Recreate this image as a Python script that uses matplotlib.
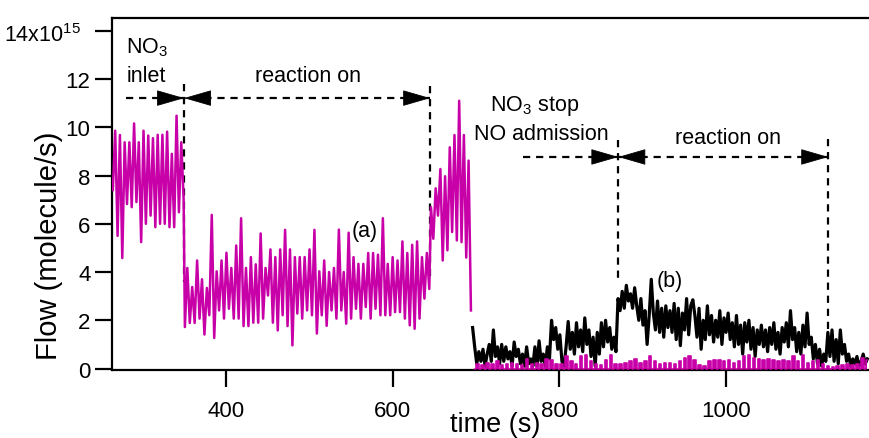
import numpy as np
import matplotlib
matplotlib.use("Agg")
import matplotlib.pyplot as plt
from matplotlib.transforms import ScaledTranslation

plt.rcParams['font.family'] = ['Liberation Sans', 'DejaVu Sans']
plt.rcParams['mathtext.fontset'] = 'custom'
plt.rcParams['mathtext.rm'] = 'Liberation Sans'
plt.rcParams['mathtext.it'] = 'Liberation Sans:italic'
plt.rcParams['lines.scale_dashes'] = False

# ---- NO3 flow signal (units of 1e15 molecule/s), alternating high/low samples ----
# before reaction (NO3 inlet only)
no3_inlet = [7.4, 9.86, 5.5, 9.68, 4.58, 9.38, 6.82, 9.38, 6.69, 10.16, 6.9, 9.38, 5.24,
             9.86, 6.0, 9.66, 6.34, 9.55, 5.86, 9.69, 6.0, 9.69, 6.0, 9.82, 5.86, 8.9,
             5.86, 10.48, 6.48, 9.38, 7.02]
# reaction on (a)
no3_reaction = [1.72, 4.17, 1.89, 3.38, 1.89, 4.48, 2.07, 3.70, 1.41, 3.34, 2.21, 6.37,
                1.27, 4.03, 2.41, 4.48, 2.07, 4.80, 2.48, 4.17, 2.07, 5.10, 2.07, 6.23,
                1.76, 4.17, 1.76, 4.62, 1.90, 4.32, 1.90, 5.60, 2.07, 4.17, 3.03, 4.94,
                1.90, 4.62, 1.58, 4.94, 2.21, 5.75, 1.76, 4.94, 0.96, 4.62, 2.28, 4.62,
                2.07, 4.62, 2.41, 4.94, 2.21, 5.75, 1.45, 4.03, 2.21, 4.48, 1.77, 4.0,
                2.41, 4.17, 2.07, 5.76, 2.41, 4.0, 1.86, 5.63, 2.07, 4.62, 2.48, 4.34,
                2.07, 4.34, 2.55, 4.79, 2.07, 4.79, 2.48, 4.72, 2.21, 6.23, 2.21, 4.34,
                2.21, 4.62, 2.34, 4.48, 2.34, 5.27, 2.07, 4.79, 1.79, 5.13, 1.65, 5.27,
                2.07, 4.62, 2.9, 4.79, 3.3]
# reaction off again
no3_recovery = [6.69, 5.38, 7.47, 6.34, 8.27, 4.48, 7.97, 4.9, 9.17, 5.66, 9.68, 5.31,
                11.1, 5.24, 9.68, 4.6, 8.62, 2.41]
# NO3 stopped: residual spikes
no3_residual = [0.2, 0.15, 0.25, 0.2, 0.3, 0.15, 0.2, 0.25, 0.2, 0.15,
                0.4, 0.2, 0.25, 0.2, 0.4, 0.35, 0.2,
                0.2, 0.5, 0.3, 0.2, 0.5, 0.55, 0.3, 0.2, 0.15, 0.35, 0.55, 0.2,
                0.2, 0.25, 0.3, 0.4, 0.25, 0.3, 0.5, 0.3, 0.2, 0.25,
                0.25, 0.2, 0.3, 0.45, 0.5, 0.35, 0.15, 0.1, 0.3, 0.35, 0.35, 0.3,
                0.35, 0.25, 0.3, 0.5, 0.55, 0.45, 0.4, 0.35, 0.4, 0.35,
                0.3, 0.35, 0.3, 0.5, 0.3, 0.55, 0.25, 0.3, 0.35, 0.2,
                0.1, 0.05, 0.1, 0.15, 0.2, 0.15, 0.2, 0.45, 0.35]

# ---- NO flow signal (b) ----
no_flow = [1.7, 0.9, 0.2, 0.7, 0.3, 0.8, 0.1, 0.6, 1.0, 0.3, 1.6, 0.5, 0.9, 0.2,
           1.0, 0.3, 0.9, 0.4, 0.7, 0.1, 1.1, 0.5, 0.8, 0.2, 0.6, 0.1, 0.9, 0.2, 0.4, 0.1,
           0.9, 0.1, 1.15, 0.3, 0.6, 0.1, 0.9, 0.4,
           2.0, 1.2, 1.7, 0.8, 1.4, 0.3, 0.1, 0.9,
           1.95, 0.8, 1.5, 0.6, 1.9, 0.9, 1.6, 0.7,
           2.1, 1.0, 1.6, 0.5, 1.3, 0.1, 1.5, 0.6,
           1.9, 0.9, 2.0, 1.1, 1.7, 0.8, 1.3, 0.7,
           2.9, 2.4, 3.2, 2.5, 3.45, 2.8, 3.1, 2.5, 3.35,
           2.6, 2.0, 2.9, 1.8, 2.4, 1.0, 2.2, 3.7,
           2.3, 1.6, 2.8, 1.5, 2.5, 1.3, 2.6, 1.7,
           2.4, 1.5, 2.7, 1.2, 2.5, 0.95, 2.3, 1.6, 2.9, 1.4, 2.6, 2.85,
           2.2, 1.3, 2.5, 0.8, 2.0, 1.2, 2.6, 1.4, 2.2, 1.1, 2.0, 1.3, 2.4, 1.0, 2.1, 1.5,
           2.3, 1.2, 1.9, 0.9, 2.2, 1.0, 1.8, 0.6, 1.9, 1.1, 2.0, 0.8, 1.7, 0.5, 1.6, 1.0,
           1.8, 0.9, 1.6, 0.7, 1.7, 1.0, 1.9, 0.8, 1.5, 0.6, 1.7, 1.1, 1.9, 0.9, 2.4, 1.2,
           1.7, 0.7, 1.5, 0.6, 1.8, 0.9, 2.3, 1.0,
           1.3, 0.4, 1.0, 0.2, 0.8, 0.1, 0.6, 0.3,
           1.5, 0.5, 1.6, 0.3, 1.2, 0.2, 1.6, 0.6,
           1.0, 0.3, 0.6, 0.1, 0.4, 0.2, 0.5, 0.1, 0.3, 0.6, 0.2, 0.4]

# event times (s)
t_no3_inlet = 349.5
t_reaction_a_end = 645.0
t_no_admission = 871.0
t_reaction_b_end = 1123.0

y_ticks = [0, 2, 4, 6, 8, 10, 12, 14]
y_tick_labels = ['0', '2', '4', '6', '8', '10', '12', r'14x10$^{15}$']
x_ticks = [400, 600, 800, 1000]

MAGENTA = '#c800a8'

# time grids for each recording segment
t_inlet = np.linspace(264, 349, len(no3_inlet))
t_reac = np.linspace(350.5, 644, len(no3_reaction))
t_rec = np.linspace(646, 694, len(no3_recovery))
t_main = np.concatenate([t_inlet, t_reac, t_rec])
v_main = np.concatenate([no3_inlet, no3_reaction, no3_recovery])

resid = np.zeros(2 * len(no3_residual))
resid[1::2] = no3_residual
t_resid = np.linspace(699, 1170, len(resid))

t_no = np.linspace(696, 1170, len(no_flow))

fig = plt.figure(figsize=(8.69, 4.39), dpi=100)
ax = fig.add_axes([0.1289, 0.1538, 0.8711, 0.8029])

ax.plot(t_main, v_main, color=MAGENTA, lw=1.8, zorder=3)
ax.plot(t_no, no_flow, color='black', lw=2.3, zorder=3)
ax.plot(t_resid, resid, color=MAGENTA, lw=1.2, drawstyle='steps-mid', zorder=4)
ax.fill_between(t_resid, resid, 0, step='mid', color=MAGENTA, lw=0, zorder=4)

ax.set_xlim(263, 1172)
ax.set_ylim(-0.08, 14.53)

# dashed guide lines
dash = dict(color='black', lw=1.6, dashes=(5.2, 4.2))
ax.plot([280, t_reaction_a_end], [11.21, 11.21], **dash)
ax.plot([757, t_reaction_b_end], [8.77, 8.77], **dash)
ax.plot([t_no3_inlet, t_no3_inlet], [11.8, 3.6], **dash)
ax.plot([t_reaction_a_end, t_reaction_a_end], [11.7, 3.65], **dash)
ax.plot([t_no_admission, t_no_admission], [9.47, 3.6], **dash)
ax.plot([t_reaction_b_end, t_reaction_b_end], [9.5, 1.38], **dash)


def arrow_head(x_tip, y, direction):
    ax.annotate('', xy=(x_tip, y), xytext=(x_tip - direction * 4, y),
                arrowprops=dict(arrowstyle='-|>,head_length=1.8,head_width=0.52',
                                mutation_scale=10, color='black', lw=0.6,
                                shrinkA=0, shrinkB=0), zorder=5)


arrow_head(t_no3_inlet, 11.21, +1)
arrow_head(t_no3_inlet, 11.21, -1)
arrow_head(t_reaction_a_end, 11.21, +1)
arrow_head(t_no_admission, 8.77, +1)
arrow_head(t_no_admission, 8.77, -1)
arrow_head(t_reaction_b_end, 8.77, +1)

fs = 15.5
ax.text(280, 13.11, r'NO$_3$', fontsize=fs, ha='left', va='baseline')
ax.text(280.8, 11.93, 'inlet', fontsize=fs, ha='left', va='baseline')
ax.text(498.5, 11.93, 'reaction on', fontsize=fs, ha='center', va='baseline')
ax.text(771, 10.72, r'NO$_3$ stop', fontsize=fs, ha='center', va='baseline')
ax.text(778, 9.51, 'NO admission', fontsize=fs, ha='center', va='baseline')
ax.text(1003, 9.35, 'reaction on', fontsize=fs, ha='center', va='baseline')
ax.text(566, 5.74, '(a)', fontsize=fs, ha='center', va='center')
ax.text(933, 3.67, '(b)', fontsize=fs, ha='center', va='center')

ax.set_yticks(y_ticks)
ax.set_yticklabels(y_tick_labels)
ax.set_xticks(x_ticks)
ax.tick_params(axis='both', direction='out', length=12, width=1.6, labelsize=16)
ax.tick_params(axis='y', pad=3.5)
ax.tick_params(axis='x', pad=9)

# the exponent label sits a little further left, centred on its digits
top_label = ax.get_yticklabels()[-1]
top_label.set_fontsize(15.5)
top_label.set_transform(top_label.get_transform() +
                        ScaledTranslation(-0.10, -0.01, fig.dpi_scale_trans))

for side in ['left', 'bottom', 'top']:
    ax.spines[side].set_linewidth(1.6)
ax.spines['right'].set_visible(False)

ax.set_ylabel('Flow (molecule/s)', fontsize=21)
ax.yaxis.set_label_coords(-0.065, 0.356)
ax.set_xlabel('time (s)', fontsize=19.5)
ax.xaxis.set_label_coords(0.506, -0.115)

fig.savefig('out.png', dpi=100)
